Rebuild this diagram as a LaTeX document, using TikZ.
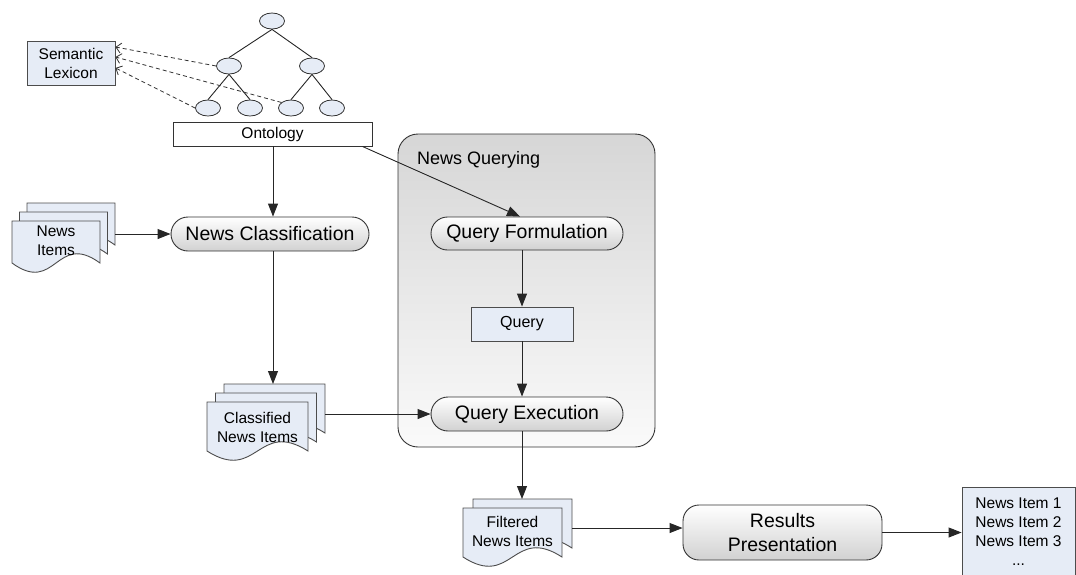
\documentclass[tikz,border=0pt]{standalone}
\usepackage{fontspec}
\setmainfont{Liberation Sans}
\usetikzlibrary{arrows.meta,calc,shapes.misc,shapes.geometric}
\definecolor{lblue}{RGB}{230,236,246}
\newcommand{\docshape}[4]{\filldraw[docpage] (#1,#2) -- (#3,#2) -- (#3,#4) .. controls ({(#1+#3)/2},{#4-32}) and ({(#1+#3)/2},{#4+32}) .. (#1,#4) -- cycle;}
\begin{document}
\begin{tikzpicture}[x=1pt,y=-1pt,
 docpage/.style={fill=lblue,draw=black!70,line width=0.9pt},
 small/.style={font=\fontsize{15.5}{19}\selectfont},
 big/.style={font=\fontsize{19.5}{23.5}\selectfont},
 proc/.style={rounded rectangle, draw=black!80, line width=0.9pt, top color=white, bottom color=black!18, big, inner sep=0pt},
 onode/.style={ellipse, draw=black!80, fill=lblue, minimum width=25pt, minimum height=16pt, inner sep=0pt, line width=0.8pt},
 arr/.style={draw=black!85, line width=0.9pt, -{Triangle[length=13pt,width=10pt]}},
 darr/.style={draw=black!80, line width=0.8pt, dash pattern=on 4pt off 3pt, -{Straight Barb[length=5pt,width=10pt]}},
 tline/.style={draw=black!85, line width=0.9pt},
 bluebox/.style={rectangle, draw=black!70, fill=lblue, line width=0.9pt, inner sep=0pt, small},
 doctext/.style={small, align=center, inner sep=0pt},
]
\useasboundingbox (0,0) rectangle (1076,574);
\clip (0,0) rectangle (1076,574);

% container
\node[draw=black!80, line width=0.9pt, rounded corners=20pt, top color=black!16, bottom color=black!2, minimum width=257pt, minimum height=313pt, inner sep=0pt] (NQ) at (526.5,290.5) {};
\node[anchor=west, font=\fontsize{18}{22}\selectfont, inner sep=0pt] (NQt) at (417,160) {News Querying};

% ontology tree
\node[onode] (r) at (272,21) {};
\node[onode] (a) at (229,66) {};
\node[onode] (b) at (312,66) {};
\node[onode] (a1) at (208,108) {};
\node[onode] (a2) at (250,108) {};
\node[onode] (b1) at (291,108) {};
\node[onode] (b2) at (332,108) {};
\draw[tline] (r.south) -- (a.north);
\draw[tline] (r.south) -- (b.north);
\draw[tline] (a.south) -- (a1.north);
\draw[tline] (a.south) -- (a2.north);
\draw[tline] (b.south) -- (b1.north);
\draw[tline] (b.south) -- (b2.north);

\node[bluebox, minimum width=88pt, minimum height=44pt, align=center] (SL) at (71,63) {Semantic\\Lexicon};
\node[draw=black!80, fill=white, line width=0.9pt, minimum width=199pt, minimum height=24pt, inner sep=0pt, small] (ON) at (272.5,134) {Ontology};

\draw[darr] (a.west) -- ($(SL.east)+(0,-16)$);
\draw[darr] (b1.150) -- ($(SL.east)+(0,-6)$);
\draw[darr] (a1.west) -- ($(SL.east)+(0,5)$);

% processes
\node[proc, minimum width=198pt, minimum height=34pt] (NC) at (270,234) {News Classification};
\node[proc, minimum width=192pt, minimum height=33pt] (QF) at (527,233.5) {Query Formulation};
\node[bluebox, minimum width=102pt, minimum height=34pt, font=\fontsize{16}{19}\selectfont] (Q) at (522,324) {Query};
\node[proc, minimum width=192pt, minimum height=34pt] (QE) at (527,414) {Query Execution};
\node[draw=black!80, line width=0.9pt, rounded corners=16pt, top color=white, bottom color=black!18, minimum width=199pt, minimum height=55pt, inner sep=0pt, align=center, big] (RP) at (782.5,532.5) {Results\\Presentation};
\node[bluebox, anchor=north, minimum width=113pt, inner ysep=10pt, align=center] (NL) at (1018.5,487) {News Item 1\\News Item 2\\News Item 3\\...};

% documents: News Items
\docshape{27}{203}{115}{245}
\docshape{19.5}{212}{107.5}{254}
\docshape{12}{221}{100}{263}
\node[doctext] (NI) at (56,241) {News\\Items};
\coordinate (NIb) at (115,234);

% documents: Classified
\docshape{224}{384}{325}{433}
\docshape{215.5}{393}{316.5}{442}
\docshape{207}{402}{308}{451}
\node[doctext] (CN) at (257.5,427.5) {Classified\\News Items};
\coordinate (CNt) at (273,384);
\coordinate (CNe) at (325,414);

% documents: Filtered
\docshape{473}{499}{572}{548}
\docshape{463}{508}{562}{557}
\node[doctext] (FN) at (512.5,531) {Filtered\\News Items};
\coordinate (FNt) at (522,499);
\coordinate (FNe) at (572,528);

% connectors
\draw[arr] (ON.south -| CNt) -- (NC.north -| CNt);
\draw[arr] (NC.south -| CNt) -- (CNt);
\draw[arr] (NIb) -- (NC.west |- NIb);
\draw[arr] ($(ON.south east)+(-10,0)$) -- ($(QF.north)+(-7,0)$);
\draw[arr] (QF.south -| Q.north) -- (Q.north);
\draw[arr] (Q.south) -- (QE.north -| Q.south);
\draw[arr] (CNe) -- (QE.west |- CNe);
\draw[arr] (QE.south -| FNt) -- (FNt);
\draw[arr] (FNe) -- (RP.west |- FNe);
\draw[arr] (RP.east) -- (NL.west |- RP.east);
\end{tikzpicture}
\end{document}
